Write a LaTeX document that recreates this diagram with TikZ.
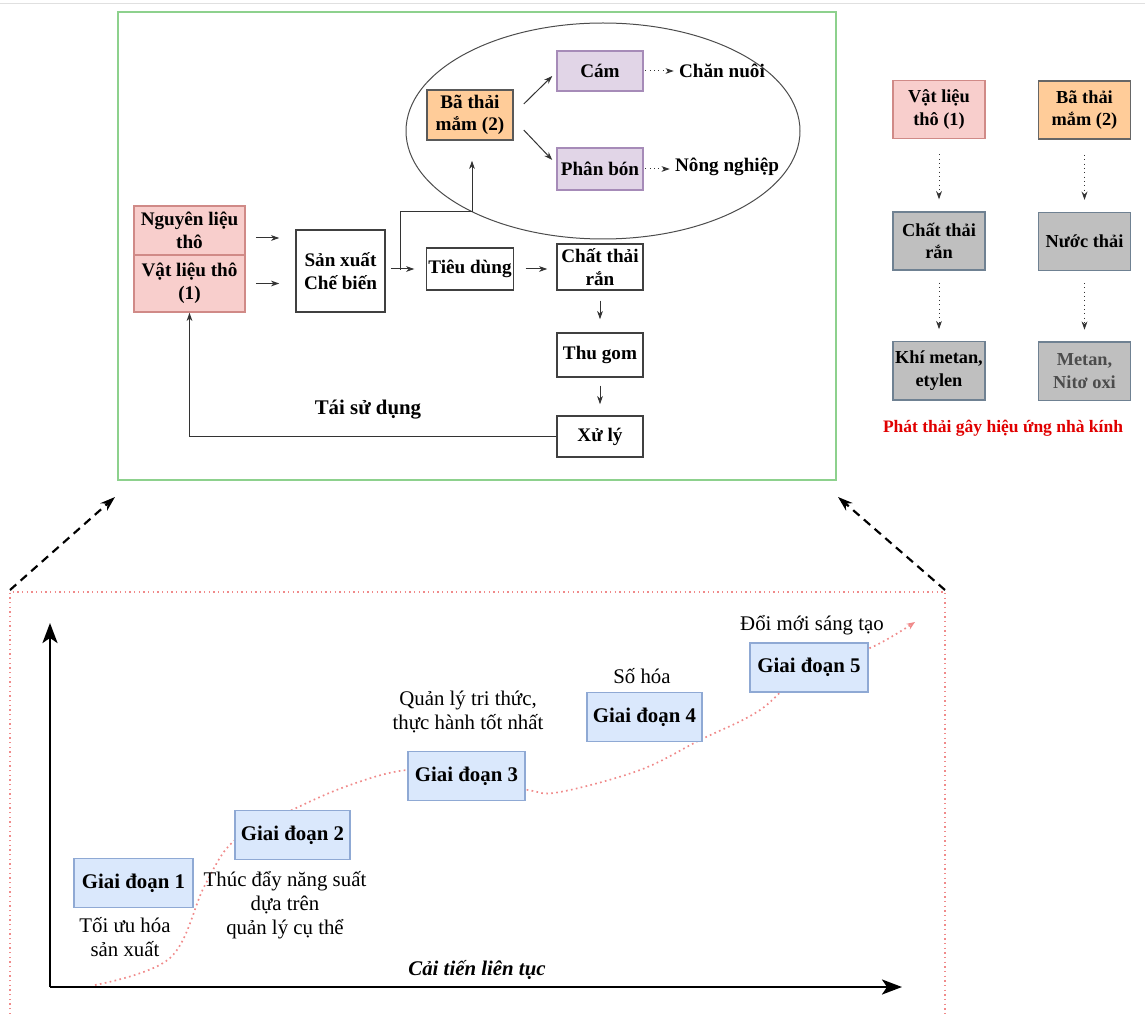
\documentclass[tikz,border=0pt]{standalone}
\usepackage{fontspec}
\setmainfont{Liberation Serif}
\usetikzlibrary{positioning, arrows.meta, backgrounds}
\definecolor{rawfill}{HTML}{F8CECC}
\definecolor{rawdraw}{HTML}{D08A87}
\definecolor{wastefill}{HTML}{FFCC99}
\definecolor{usefill}{HTML}{E1D5E7}
\definecolor{usedraw}{HTML}{A68BB8}
\definecolor{emitfill}{HTML}{BFBFBF}
\definecolor{emitdraw}{HTML}{6F8192}
\definecolor{stagefill}{HTML}{DAE8FC}
\definecolor{stagedraw}{HTML}{8FA9D4}
\definecolor{framegreen}{HTML}{8DD18D}
\definecolor{trendred}{HTML}{F08A8A}
\definecolor{alertred}{HTML}{E00000}
\tikzset{
	>=Stealth,
	flow/.style={-{Stealth[length=5pt,width=3.5pt]}, draw=black!80, line width=0.6pt},
	dotflow/.style={flow, dotted},
	box/.style={draw=black!75, line width=0.9pt, fill=white, align=center, inner sep=1pt, minimum width=51.6pt, font=\fontsize{11.5}{13.5}\selectfont\bfseries},
	raw/.style={box, fill=rawfill, draw=rawdraw, minimum width=66.6pt},
	waste/.style={box, fill=wastefill, draw=black!65},
	reuse/.style={box, fill=usefill, draw=usedraw},
	emit/.style={box, fill=emitfill, draw=emitdraw, minimum width=55pt, minimum height=35pt, font=\fontsize{11}{13.5}\selectfont\bfseries},
	stage/.style={box, fill=stagefill, draw=stagedraw, line width=1pt, minimum height=29.4pt, font=\fontsize{12.5}{14.5}\selectfont\bfseries},
	note/.style={align=center, inner sep=1pt, font=\fontsize{12.5}{14.5}\selectfont},
	label/.style={inner sep=1pt, font=\fontsize{11.5}{13.5}\selectfont\bfseries},
	zoom/.style={-{Stealth[length=9pt,width=6pt]}, line width=1.3pt, dash pattern=on 5pt off 3.5pt},
	axis/.style={-{Stealth[length=12pt,width=9pt,inset=3pt]}, line width=1.6pt},
	trend/.style={-{Stealth[length=5pt,width=4pt]}, draw=trendred, line width=1pt, dotted},
}
\begin{document}
\begin{tikzpicture}[x=0.6pt, y=-0.6pt]
	\useasboundingbox (0,0) rectangle (1145,1014);
	\draw[black!12] (0,3) -- (1145,3);
	\draw[framegreen, line width=1.2pt] (118,12) rectangle (836,480);
	\draw[black!70, line width=0.6pt] (603,131) ellipse [x radius=197, y radius=108];
	
	\node[raw, minimum height=29.4pt] (NGUYEN) at (189.5,230.5) {Nguyên liệu\\thô};
	\node[raw, minimum height=34.2pt] (VATLIEU) at (189.5,283.5) {Vật liệu thô\\(1)};
	\node[box, minimum width=53.4pt, minimum height=49.2pt] (SANXUAT) at (340.5,271) {Sản xuất\\Chế biến};
	\node[box, minimum height=25.2pt] (TIEUDUNG) at (470,269) {Tiêu dùng};
	\node[box, minimum height=27.6pt] (CHATTHAI) at (600,267) {Chất thải\\rắn};
	\node[box, minimum height=26.4pt] (THUGOM) at (600,355) {Thu gom};
	\node[box, minimum height=24.6pt] (XULY) at (600,436.5) {Xử lý};
	\node[waste, minimum height=30pt] (BATHAI) at (470,115) {Bã thải\\mắm (2)};
	\node[reuse, minimum height=24pt] (CAM) at (600,71) {Cám};
	\node[reuse, minimum height=25.2pt] (PHANBON) at (600,169) {Phân bón};
	\node[label, right=20pt of CAM] (CHANNUOI) {Chăn nuôi};
	\node[label, right=17.6pt of PHANBON, yshift=1pt] (NONGNGHIEP) {Nông nghiệp};
	\node[label, font=\fontsize{12.5}{14.5}\selectfont\bfseries] (TAISUDUNG) at (368,410) {Tái sử dụng};
	\coordinate (SPLIT) at (400,270);
	\coordinate (BEND) at (472,212);
	
	\draw[flow, shorten <=6pt, shorten >=9.6pt] ([yshift=-4.5pt]NGUYEN.east) -- ([yshift=-4.5pt]NGUYEN.east -| SANXUAT.west);
	\draw[flow, shorten <=6pt, shorten >=9.6pt] (VATLIEU.east) -- (VATLIEU.east -| SANXUAT.west);
	\draw[flow, shorten <=3pt, shorten >=7pt] (SANXUAT.east |- TIEUDUNG) -- (TIEUDUNG.west);
	\draw[flow, shorten >=12pt] (SPLIT) -- (SPLIT |- BEND) -- (BEND) -- (BEND |- BATHAI.south);
	\draw[flow, shorten <=7pt, shorten >=5.4pt] (TIEUDUNG.east) -- (TIEUDUNG.east -| CHATTHAI.west);
	\draw[flow, shorten <=6pt, shorten >=7.8pt] (CHATTHAI) -- (THUGOM);
	\draw[flow, shorten <=4.8pt, shorten >=6.6pt] (THUGOM) -- (XULY);
	\draw[flow] (XULY.west) -| (VATLIEU.south);
	\draw[flow] ([xshift=6pt,yshift=6.6pt]BATHAI.east) -- ([xshift=-2.4pt,yshift=-3pt]CAM.west);
	\draw[flow] ([xshift=6pt,yshift=-9pt]BATHAI.east) -- ([xshift=-2.4pt,yshift=5.4pt]PHANBON.west);
	\draw[dotflow, shorten <=1pt, shorten >=2pt] (CAM.east) -- (CHANNUOI.west);
	\draw[dotflow, shorten <=1pt, shorten >=2pt] (PHANBON.east) -- (PHANBON.east -| NONGNGHIEP.west);
	
	\node[emit, fill=rawfill, draw=rawdraw] (VL1) at (939,109.5) {Vật liệu\\thô (1)};
	\node[emit, below=43pt of VL1] (CTR) {Chất thải\\rắn};
	\node[emit, below=42pt of CTR] (KHI) {Khí metan,\\etylen};
	\node[emit, fill=wastefill, draw=black!60] (BT2) at (1084.5,110) {Bã thải\\mắm (2)};
	\node[emit, below=43pt of BT2] (NUOC) {Nước thải};
	\node[emit, below=42pt of NUOC, text=black!70] (METAN) {Metan,\\Nitơ oxi};
	\node[label, text=alertred, font=\fontsize{10.5}{12}\selectfont\bfseries] (PHATTHAI) at (1003,428) {Phát thải gây hiệu ứng nhà kính};
	\draw[dotflow, shorten <=9pt, shorten >=7pt] (VL1) -- (CTR);
	\draw[dotflow, shorten <=7pt, shorten >=7pt] (CTR) -- (KHI);
	\draw[dotflow, shorten <=9pt, shorten >=7pt] (BT2) -- (NUOC);
	\draw[dotflow, shorten <=7pt, shorten >=7pt] (NUOC) -- (METAN);
	
	\coordinate (ZOOMLS) at (10,590);
	\coordinate (ZOOMLE) at (115,497);
	\coordinate (ZOOMRS) at (945,590);
	\coordinate (ZOOMRE) at (838,497);
	\draw[zoom] (ZOOMLS) -- (ZOOMLE);
	\draw[zoom] (ZOOMRS) -- (ZOOMRE);
	\draw[trendred, line width=0.8pt, dotted] (10,1014) |- (945,592) -- (945,1014);
	
	\coordinate (ORIGIN) at (50,987);
	\coordinate (YTOP) at (50,623);
	\coordinate (XEND) at (902,987);
	\draw[axis] (ORIGIN) -- (YTOP);
	\draw[axis] (ORIGIN) -- (XEND);
	\node[note, font=\fontsize{12.5}{14.5}\selectfont\bfseries\itshape] (CAITIEN) at (477,970) {Cải tiến liên tục};
	
	\node[stage, minimum width=71.4pt] (GD1) at (133.5,883) {Giai đoạn 1};
	\node[stage, minimum width=69pt] (GD2) at (292.5,835) {Giai đoạn 2};
	\node[stage, minimum width=70.2pt] (GD3) at (466.5,776) {Giai đoạn 3};
	\node[stage, minimum width=69pt] (GD4) at (644.5,717) {Giai đoạn 4};
	\node[stage, minimum width=70.8pt] (GD5) at (809,667.5) {Giai đoạn 5};
	\node[note] (NOTE1) at (125,937) {Tối ưu hóa\\sản xuất};
	\node[note] (NOTE2) at (285,905) {Thúc đẩy năng suất\\dựa trên\\quản lý cụ thể};
	\node[note] (NOTE3) at (468,712) {Quản lý tri thức,\\thực hành tốt nhất};
	\node[note] (NOTE4) at (642,676) {Số hóa};
	\node[note] (NOTE5) at (812,625) {Đổi mới sáng tạo};
	
	\begin{scope}[on background layer]
		\draw[trend] plot[smooth, tension=0.6] coordinates {(95,985) (170,958) (205,885) (235,840) (292,810) (350,785) (408,770) (466,776) (528,790) (560,792) (640,770) (700,740) (760,710) (809,667) (870,648) (915,622)};
	\end{scope}
\end{tikzpicture}
\end{document}
